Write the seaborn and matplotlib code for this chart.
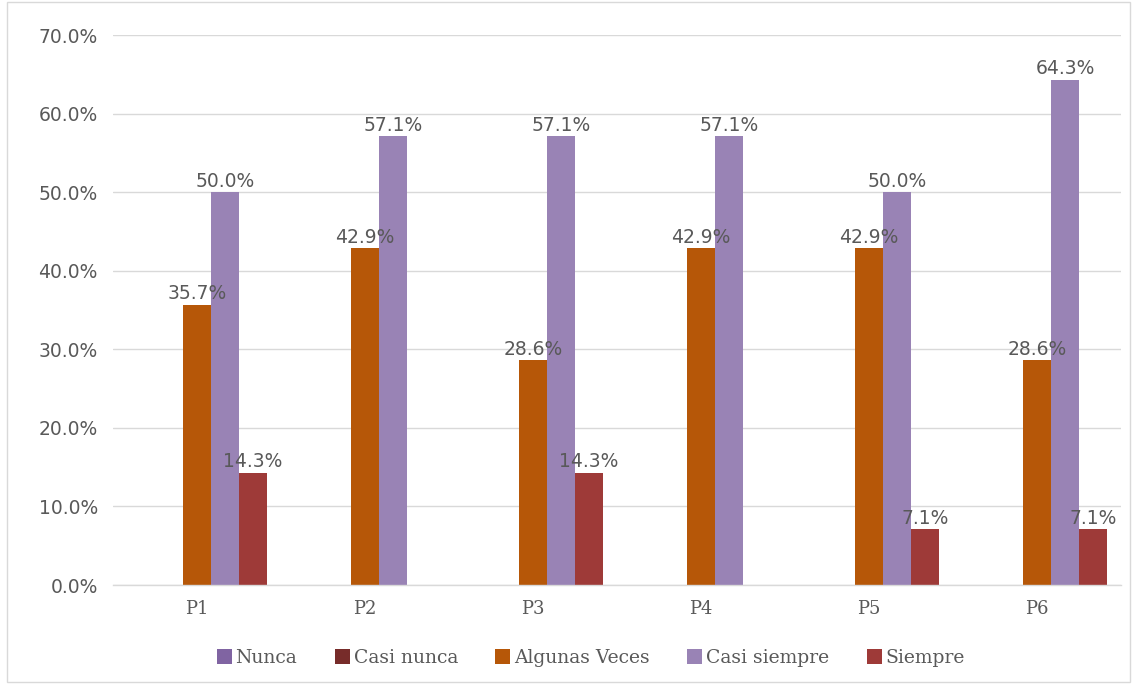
import matplotlib
matplotlib.use("Agg")
import matplotlib.pyplot as plt
import seaborn as sns
import pandas as pd
from matplotlib.patches import Rectangle

categories = ["P1", "P2", "P3", "P4", "P5", "P6"]
series = ["Nunca", "Casi nunca", "Algunas Veces", "Casi siempre", "Siempre"]
nunca = [0, 0, 0, 0, 0, 0]
casi_nunca = [0, 0, 0, 0, 0, 0]
algunas_veces = [35.7, 42.9, 28.6, 42.9, 42.9, 28.6]
casi_siempre = [50.0, 57.1, 57.1, 57.1, 50.0, 64.3]
siempre = [14.3, 0, 14.3, 0, 7.1, 7.1]
yticks = [0, 10, 20, 30, 40, 50, 60, 70]

colors = ["#8064A2", "#772C2A", "#B65708", "#9983B5", "#9E3A38"]

values = [nunca, casi_nunca, algunas_veces, casi_siempre, siempre]
rows = []
for s, vals in zip(series, values):
    for c, v in zip(categories, vals):
        rows.append({"cat": c, "serie": s, "val": v})
df = pd.DataFrame(rows)

sns.set_theme(style="white")
plt.rcParams['font.family'] = ['DejaVu Serif', 'DejaVu Sans']

fig = plt.figure(figsize=(11.35, 6.84), dpi=100)
ax = fig.add_axes([0.0996, 0.1447, 0.8881, 0.8041])

sns.barplot(data=df, x="cat", y="val", hue="serie", hue_order=series,
            order=categories, palette=colors, width=0.833, ax=ax,
            saturation=1, linewidth=0, errorbar=None)

ax.set_ylim(0, 70)
ax.set_xlim(-0.5, len(categories) - 0.5)
ax.set_yticks(yticks)
ax.set_yticklabels([f"{t:.1f}%" for t in yticks], fontsize=13.5, color="#595959",
                   family="DejaVu Sans")
ax.set_xticks(range(len(categories)))
ax.set_xticklabels(categories, fontsize=13, color="#595959", family="DejaVu Serif")
ax.tick_params(axis="x", length=0, pad=11)
ax.tick_params(axis="y", length=0, pad=11)
ax.set_xlabel("")
ax.set_ylabel("")
ax.grid(axis="y", color="#D9D9D9", linewidth=1)
ax.set_axisbelow(True)
for sp in ["top", "right", "left"]:
    ax.spines[sp].set_visible(False)
ax.spines["bottom"].set_color("#D9D9D9")
ax.spines["bottom"].set_linewidth(1)

for cont in ax.containers:
    labels = [f"{b.get_height():.1f}%" if b.get_height() > 0 else "" for b in cont]
    ax.bar_label(cont, labels=labels, padding=1, fontsize=13.5, color="#595959",
                 family="DejaVu Sans")

handles, labs = ax.get_legend_handles_labels()
ax.legend(handles, labs, loc="center", bbox_to_anchor=(0.474, -0.133),
          ncol=5, frameon=False, fontsize=13.5, handlelength=0.8, handleheight=0.8,
          handletextpad=0.2, columnspacing=2.0, labelcolor="#595959")

fig.patches.append(Rectangle((0.006, 0.003), 0.99, 0.994, transform=fig.transFigure,
                             fill=False, edgecolor="#D9D9D9", linewidth=1))

fig.savefig("out.png", dpi=100)
